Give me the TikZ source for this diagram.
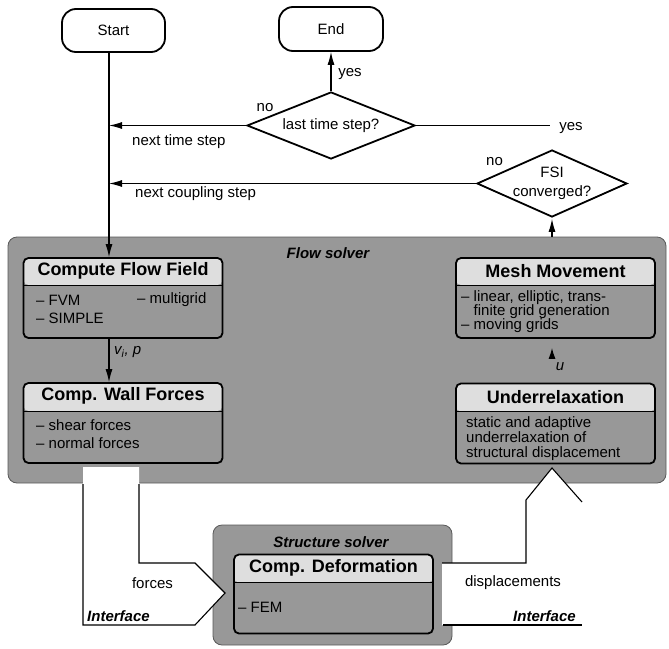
\documentclass[tikz,border=0pt]{standalone}
\usepackage{fontspec}
\setmainfont{Liberation Sans}
\usetikzlibrary{shapes.geometric,arrows.meta}
\definecolor{solvergray}{RGB}{152,152,152}
\definecolor{hdrgray}{RGB}{222,222,222}
\begin{document}
\begin{tikzpicture}[x=1pt,y=-1pt,
  every node/.style={font=\fontsize{15}{16}\selectfont},
  term/.style={draw, line width=1.8pt, rounded corners=14pt, minimum width=103pt, minimum height=43pt, inner sep=0},
  decis/.style={draw, diamond, line width=1.8pt, inner sep=0},
  solver/.style={draw=black!65, line width=0.8pt, fill=solvergray, rounded corners=9pt, inner sep=0},
  box/.style={draw, line width=1.8pt, fill=solvergray, rounded corners=5pt, inner sep=0,
    minimum width=199pt, minimum height=80pt,
    path picture={\fill[hdrgray] (path picture bounding box.north west) rectangle ([yshift=-#1pt]path picture bounding box.north east);
      \draw[line width=1pt] ([yshift=-#1pt]path picture bounding box.north west) -- ([yshift=-#1pt]path picture bounding box.north east);}},
  title/.style={font=\bfseries\fontsize{18}{20}\selectfont, inner sep=0},
  txt/.style={inner sep=0, anchor=west, align=left},
  lbl/.style={inner sep=0},
  solvlbl/.style={font=\bfseries\itshape\fontsize{15}{16}\selectfont, inner sep=0},
  arr/.style={line width=1.1pt, -{Latex[length=13pt,width=7pt]}},
  ln/.style={line width=1.1pt},
]
\useasboundingbox (0,0) rectangle (669,648);

% solver frames
\node[solver, minimum width=658pt, minimum height=246pt] (flow) at (337,360) {};
\node[solver, minimum width=239pt, minimum height=120pt] (struct) at (332.5,585) {};
\node[solvlbl] (flowlbl) at (328,253) {Flow solver};
\node[solvlbl] (structlbl) at (331,542) {Structure solver};

% interface shapes
\fill[white] (83,467) -- (83,625) -- (195,625) -- (225,593) -- (195,563) -- (139,563) -- (139,467) -- cycle;
\draw[ln] (83,484) -- (83,625) -- (195,625) -- (225,593) -- (195,563) -- (139,563) -- (139,484);
\fill[white] (442,563) -- (526,563) -- (526,500) -- (552,468) -- (582,502) -- (582,625) -- (442,625) -- cycle;
\draw[ln] (442,563) -- (526,563) -- (526,500) -- (552,468) -- (582,502);
\draw[ln] (443,625) -- (582,625);
\node[lbl] (forceslbl) at (152.5,583) {forces};
\node[lbl, font=\bfseries\itshape\fontsize{15}{16}\selectfont] (ifl) at (118.5,616) {Interface};
\node[lbl] (displbl) at (513,583) {displacements};
\node[lbl, font=\bfseries\itshape\fontsize{15}{16}\selectfont] (ifr) at (544.5,616) {Interface};

% boxes
\node[box=27] (cff) at (123,298) {};
\node[title] (cfft) at ([yshift=-13.5pt]cff.north) {Compute Flow Field};
\node[txt] (cff1) at (36,300) {– FVM};
\node[txt] (cff2) at (137,300) {– multigrid};
\node[txt] (cff3) at (36,318) {– SIMPLE};

\node[box=28] (cwf) at (123,423) {};
\node[title] (cwft) at ([yshift=-14pt]cwf.north) {Comp. Wall Forces};
\node[txt] (cwf1) at (36,425) {– shear forces};
\node[txt] (cwf2) at (36,443) {– normal forces};

\node[box=27] (mesh) at (555.5,298) {};
\node[title] (mesht) at ([yshift=-13.5pt]mesh.north) {Mesh Movement};
\node[txt, font=\fontsize{15}{14}\selectfont] (mesh1) at (461,312) {– linear, elliptic, trans-\\\hphantom{– }finite grid generation\\– moving grids};

\node[box=28] (under) at (555.5,423.5) {};
\node[title] (undert) at ([yshift=-14pt]under.north) {Underrelaxation};
\node[txt, font=\fontsize{15}{15}\selectfont] (under1) at (466,439) {static and adaptive\\underrelaxation of\\structural displacement};

\node[box=28, minimum height=79pt] (cdef) at (333.5,594) {};
\node[title] (cdeft) at ([yshift=-14pt]cdef.north) {Comp. Deformation};
\node[txt] (cdef1) at (238,607) {– FEM};

% terminals and decisions
\node[term] (start) at (113.5,30.5) {Start};
\node[term, minimum width=104pt, minimum height=44pt] (end) at (331,29) {End};
\node[decis, minimum width=168pt, minimum height=67pt, label={[inner sep=0]center:last time step?}] (d1) at (331,125.5) {};
\node[decis, minimum width=150pt, minimum height=67pt, label={[inner sep=0, align=center, font=\fontsize{15}{19}\selectfont]center:FSI\\converged?}] (d2) at (552,183.5) {};

% connectors
\coordinate (s0) at ([xshift=-4.5pt]start.south);
\coordinate (j1) at (s0 |- d1.west);
\coordinate (j2) at (s0 |- d2.west);
\coordinate (yesend) at (550,125.5);
\draw[ln] (s0) -- (j2);
\draw[arr] (j2) -- (s0 |- cff.north);
\draw[arr] (d1.west) -- (j1);
\draw[arr] (d2.west) -- (j2);
\draw[arr] (d1.north) -- (end.south);
\draw[ln] (d1.east) -- (yesend);
\draw[arr, shorten >=1pt] (flow.north -| d2.south) -- (d2.south);
\draw[arr] (s0 |- cff.south) -- (s0 |- cwf.north);
\draw[line width=1.1pt, -{Latex[length=11pt,width=7pt]}, shorten <=24pt, shorten >=9pt] (d2.south |- under.north) -- (d2.south |- mesh.south);

% labels
\node[lbl] (yes1) at (350,74) {yes};
\node[lbl] (no1) at (265,108) {no};
\node[lbl] (yes2) at (571,128) {yes};
\node[lbl] (no2) at (494.5,162) {no};
\node[lbl, anchor=west] (ntl) at (132,142) {next time step};
\node[lbl, anchor=west] (ncl) at (135,194) {next coupling step};
\node[lbl, anchor=west] (vlbl) at (114,352) {\itshape v\textsubscript{i}, p};
\node[lbl] (ulbl) at (560,367) {\itshape u};
\end{tikzpicture}
\end{document}
